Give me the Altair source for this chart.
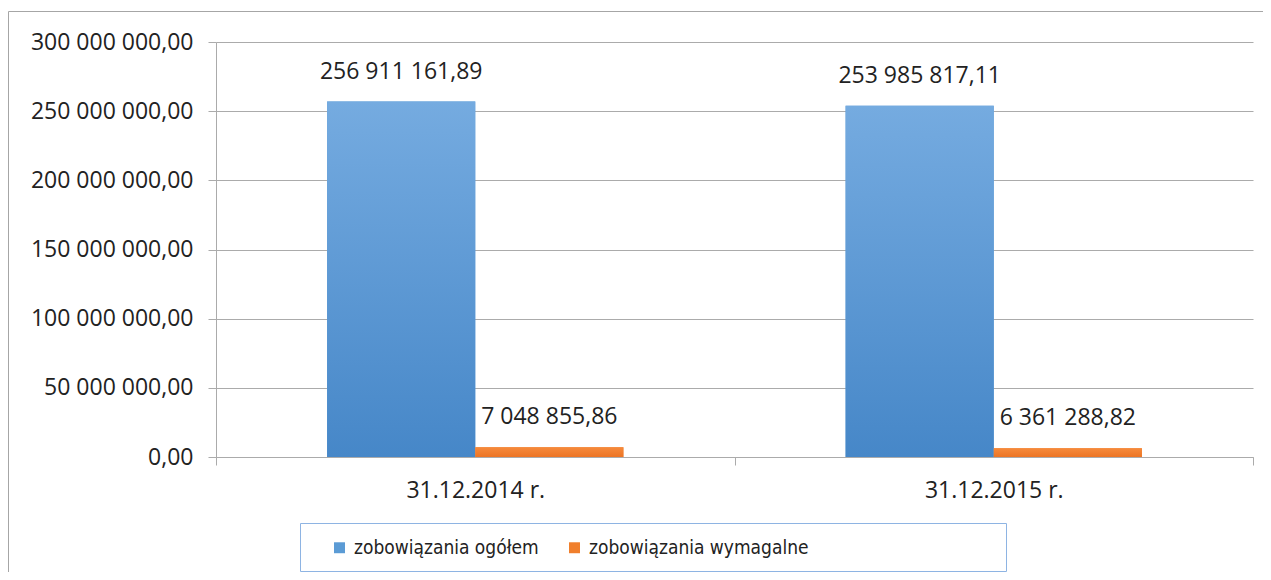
import altair as alt
import pandas as pd

categories = ["31.12.2014 r.", "31.12.2015 r."]
series = ["zobowiązania ogółem", "zobowiązania wymagalne"]
ogolem = [256911161.89, 253985817.11]
wymagalne = [7048855.86, 6361288.82]
y_ticks = [0, 50000000, 100000000, 150000000, 200000000, 250000000, 300000000]

rows = []
for i, c in enumerate(categories):
    rows.append({"cat": c, "series": series[0], "value": ogolem[i]})
    rows.append({"cat": c, "series": series[1], "value": wymagalne[i]})
df = pd.DataFrame(rows)

FONT = "Open Sans"
LFONT = "Liberation Sans Narrow, DejaVu Sans Condensed, Open Sans"
TXT = "#222222"
GRID = "#ababab"

x_enc = alt.X("cat:N", sort=categories, title=None,
              scale=alt.Scale(paddingInner=0, paddingOuter=0),
              axis=alt.Axis(labelAngle=0, tickBand="extent", ticks=True, tickSize=8,
                            tickColor=GRID, domainColor=GRID, labelPadding=14,
                            labelFont=FONT, labelFontSize=23, labelColor=TXT, grid=False))
xo_enc = alt.XOffset("series:N", sort=series,
                     scale=alt.Scale(domain=series, paddingOuter=0.75, paddingInner=0))
y_enc = alt.Y("value:Q", title=None,
              scale=alt.Scale(domain=[0, 300000000], nice=False),
              axis=alt.Axis(values=y_ticks, format=",.2f", tickSize=8, tickColor=GRID,
                            domainColor=GRID, gridColor=GRID, labelPadding=15,
                            labelFont=FONT, labelFontSize=23, labelColor=TXT))

base = alt.Chart(df)

bars = base.mark_bar().encode(
    x=x_enc, xOffset=xo_enc, y=y_enc,
    color=alt.Color("series:N", sort=series,
                    scale=alt.Scale(domain=series, range=["#5b9bd5", "#f07f2c"]),
                    legend=alt.Legend(title=None, orient="none", direction="horizontal",
                                      legendX=114, legendY=496, padding=0,
                                      symbolType="square", symbolSize=120,
                                      symbolStrokeWidth=0, labelFont=LFONT,
                                      labelFontSize=19, labelColor=TXT, labelLimit=0,
                                      labelOffset=5, columnPadding=26)),
)

blue_grad = alt.Gradient(gradient="linear", x1=0, x2=0, y1=0, y2=1,
                         stops=[alt.GradientStop(color="#75abe0", offset=0),
                                alt.GradientStop(color="#4687c8", offset=1)])
orange_grad = alt.Gradient(gradient="linear", x1=0, x2=0, y1=0, y2=1,
                           stops=[alt.GradientStop(color="#f68a3c", offset=0),
                                  alt.GradientStop(color="#ec7424", offset=1)])

over_blue = base.transform_filter(alt.datum.series == series[0]).mark_bar(fill=blue_grad).encode(
    x=alt.X("cat:N", sort=categories), xOffset=xo_enc, y="value:Q")
over_orange = base.transform_filter(alt.datum.series == series[1]).mark_bar(fill=orange_grad).encode(
    x=alt.X("cat:N", sort=categories), xOffset=xo_enc, y="value:Q")

labels = base.mark_text(font=FONT, fontSize=23, color=TXT, baseline="bottom", dy=-18).encode(
    x=alt.X("cat:N", sort=categories), xOffset=xo_enc, y="value:Q",
    text=alt.Text("value:Q", format=",.2f"))

frame_df = pd.DataFrame({"k": [0]})
frame = alt.Chart(frame_df).mark_rect(fill=None, stroke="#a6a6a6", strokeWidth=1, clip=False).encode(
    x=alt.value(-207.5), x2=alt.value(1200), y=alt.value(-30.5), y2=alt.value(700))
legend_box = alt.Chart(frame_df).mark_rect(fill=None, stroke="#8eb4e3", strokeWidth=1, clip=False).encode(
    x=alt.value(84.5), x2=alt.value(790.5), y=alt.value(481.5), y2=alt.value(529.5))

chart = alt.layer(frame, legend_box, bars, over_blue, over_orange, labels).properties(
    width=1037, height=415,
    autosize=alt.AutoSizeParams(type="none"),
    padding={"left": 208, "top": 34, "right": 10, "bottom": 115},
).configure(
    locale={"number": {"decimal": ",", "thousands": " ", "grouping": [3], "currency": ["", ""]}}
).configure_view(stroke=None).configure_axis(gridWidth=1, domainWidth=1, tickWidth=1)

chart.save("out.html", embed_options={"renderer": "svg", "actions": False})
